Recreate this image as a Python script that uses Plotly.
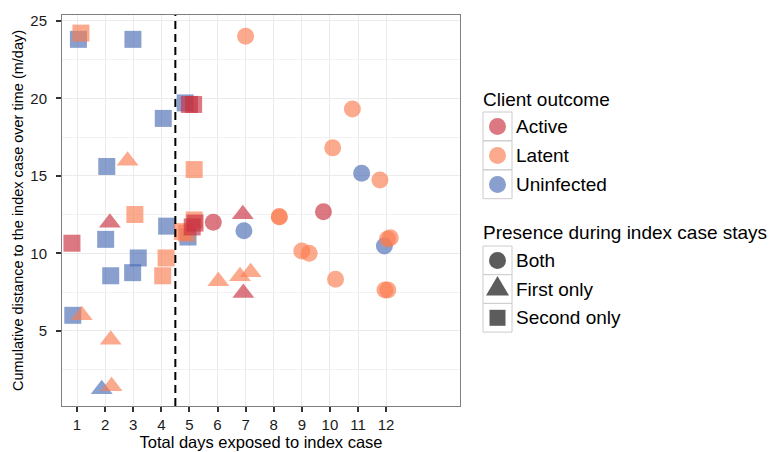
import plotly.graph_objects as go

# ---------------- data ----------------
days = [
    # Second only (squares)
    1.05, 2.99, 4.07, 4.85, 2.06, 2.02, 4.19, 3.18, 2.98, 2.20, 0.85, 4.95,
    1.14, 5.17, 3.06, 4.17, 4.05, 5.17, 4.90, 4.75,
    0.82, 5.00, 5.15, 5.10, 5.20,
    # Both (circles)
    6.94, 11.94, 11.13,
    7.00, 8.20, 8.20, 9.00, 9.26, 10.20, 12.05, 12.15, 11.96, 12.06, 10.80, 10.10, 11.78,
    5.85, 9.77,
    # First only (triangles)
    1.88,
    2.80, 1.17, 2.20, 2.23, 6.03, 6.80, 7.18,
    2.17, 6.90, 6.92,
]
distance = [
    23.8, 23.8, 18.7, 19.7, 15.6, 10.9, 11.75, 9.7, 8.75, 8.55, 6.0, 11.05,
    24.2, 15.4, 12.5, 9.7, 8.55, 12.15, 11.3, 11.4,
    10.65, 19.6, 19.6, 11.7, 11.95,
    11.45, 10.47, 15.16,
    24.0, 12.36, 12.36, 10.15, 10.0, 8.32, 10.92, 11.0, 7.63, 7.63, 19.3, 16.8, 14.73,
    12.0, 12.68,
    1.23,
    15.97, 6.0, 4.43, 1.42, 8.19, 8.52, 8.78,
    11.97, 12.52, 7.44,
]
outcome = (
    ["Uninfected"] * 12 + ["Latent"] * 8 + ["Active"] * 5
    + ["Uninfected"] * 3 + ["Latent"] * 13 + ["Active"] * 2
    + ["Uninfected"] * 1 + ["Latent"] * 7 + ["Active"] * 3
)
presence = ["Second only"] * 25 + ["Both"] * 18 + ["First only"] * 11

outcome_levels = ["Active", "Latent", "Uninfected"]
presence_levels = ["Both", "First only", "Second only"]
x_ticks = [1, 2, 3, 4, 5, 6, 7, 8, 9, 10, 11, 12]
y_ticks = [5, 10, 15, 20, 25]
y_minor = [2.5, 7.5, 12.5, 17.5, 22.5]
cutoff_day = 4.5

# ---------------- styles ----------------
colors = {"Active": "#c8303f", "Latent": "#fa7c50", "Uninfected": "#4a6cb4"}
symbols = {"Both": "circle", "First only": "triangle-up", "Second only": "square"}
sizes = {"Both": 17, "First only": 19, "Second only": 17}
ALPHA = 0.65
FONT = "Liberation Sans, Arial, Helvetica, sans-serif"

fig = go.Figure()
for p in ["Second only", "Both", "First only"]:
    idx = [i for i in range(len(days)) if presence[i] == p]
    fig.add_trace(go.Scatter(
        x=[days[i] for i in idx],
        y=[distance[i] for i in idx],
        mode="markers",
        marker=dict(symbol=symbols[p], size=sizes[p],
                    color=[colors[outcome[i]] for i in idx],
                    opacity=ALPHA, line=dict(width=0)),
        showlegend=False, hoverinfo="x+y",
    ))

# page offset (browser body margin) and plot area in window pixels
OFF = 8
L, R, T, B = 62, 460, 15, 406
WIN_W, WIN_H = 778, 452
W, H = WIN_W - OFF, WIN_H - OFF


def xp(px):
    return (px - L) / (R - L)


def yp(py):
    return (B - py) / (B - T)


shapes = [dict(type="line", xref="x", yref="paper", x0=cutoff_day, x1=cutoff_day,
               y0=0, y1=1, line=dict(color="black", width=2, dash="8px,5px"))]
annotations = []


# ---- ggplot-like legend ----
def key_box(top):
    shapes.append(dict(type="rect", xref="paper", yref="paper",
                       x0=xp(483), x1=xp(512), y0=yp(top + 28.7), y1=yp(top),
                       line=dict(color="#cccccc", width=1), fillcolor="white",
                       layer="above"))


def label(text, px, py, size=19):
    annotations.append(dict(text=text, xref="paper", yref="paper", x=xp(px), y=yp(py),
                            xanchor="left", yanchor="middle", showarrow=False,
                            font=dict(size=size, color="black", family=FONT)))


label("Client outcome", 481, 100)
tops1 = [112, 141, 170]
for name, top in zip(outcome_levels, tops1):
    key_box(top)
    cy = top + 14.4
    shapes.append(dict(type="circle", xref="paper", yref="paper",
                       x0=xp(497.5 - 8.5), x1=xp(497.5 + 8.5), y0=yp(cy + 8.5), y1=yp(cy - 8.5),
                       fillcolor=colors[name], opacity=ALPHA, line=dict(width=0), layer="above"))
    label(name, 514, cy)

label("Presence during index case stays", 481, 232)
tops2 = [246, 274.7, 303.4]
gray = "#5c5c5c"
for name, top in zip(presence_levels, tops2):
    key_box(top)
    cy = top + 14.4
    if name == "Both":
        shapes.append(dict(type="circle", xref="paper", yref="paper",
                           x0=xp(497.5 - 8.5), x1=xp(497.5 + 8.5), y0=yp(cy + 8.5), y1=yp(cy - 8.5),
                           fillcolor=gray, line=dict(width=0), layer="above"))
    elif name == "First only":
        path = "M {:.5f},{:.5f} L {:.5f},{:.5f} L {:.5f},{:.5f} Z".format(
            xp(497.5 - 11.5), yp(cy + 6.5), xp(497.5 + 11.5), yp(cy + 6.5), xp(497.5), yp(cy - 13))
        shapes.append(dict(type="path", xref="paper", yref="paper", path=path,
                           fillcolor=gray, line=dict(width=0), layer="above"))
    else:
        shapes.append(dict(type="rect", xref="paper", yref="paper",
                           x0=xp(497.5 - 8), x1=xp(497.5 + 8), y0=yp(cy + 8), y1=yp(cy - 8),
                           fillcolor=gray, line=dict(width=0), layer="above"))
    label(name, 514, cy)

axis_common = dict(
    showgrid=True, gridcolor="#ebebeb", gridwidth=1,
    showline=True, linecolor="#7f7f7f", linewidth=1, mirror=True,
    zeroline=False, ticks="outside", ticklen=5, tickwidth=1.5, tickcolor="#333333",
    tickfont=dict(size=15, color="#1a1a1a", family=FONT),
    automargin=False,
)

fig.update_layout(
    width=W, height=H,
    margin=dict(l=L - OFF, r=WIN_W - R, t=T - OFF, b=WIN_H - B),
    paper_bgcolor="white", plot_bgcolor="white",
    font=dict(family=FONT, color="black"),
    xaxis=dict(range=[0.466, 14.63], tickvals=x_ticks, ticktext=[str(v) for v in x_ticks],
               title=dict(text="Total days exposed to index case",
                          font=dict(size=16.5, color="black"), standoff=2),
               **axis_common),
    yaxis=dict(range=[0.15, 25.37], tickvals=y_ticks, ticktext=[str(v) for v in y_ticks],
               minor=dict(tickvals=y_minor, showgrid=True, gridcolor="#f2f2f2", gridwidth=1, ticks=""),
               ticklabelstandoff=6,
               title=dict(text="Cumulative distance to the index case over time (m/day)",
                          font=dict(size=14.5, color="black"), standoff=3),
               **axis_common),
    shapes=shapes,
    annotations=annotations,
    showlegend=False,
)

fig.write_html("out.html")
